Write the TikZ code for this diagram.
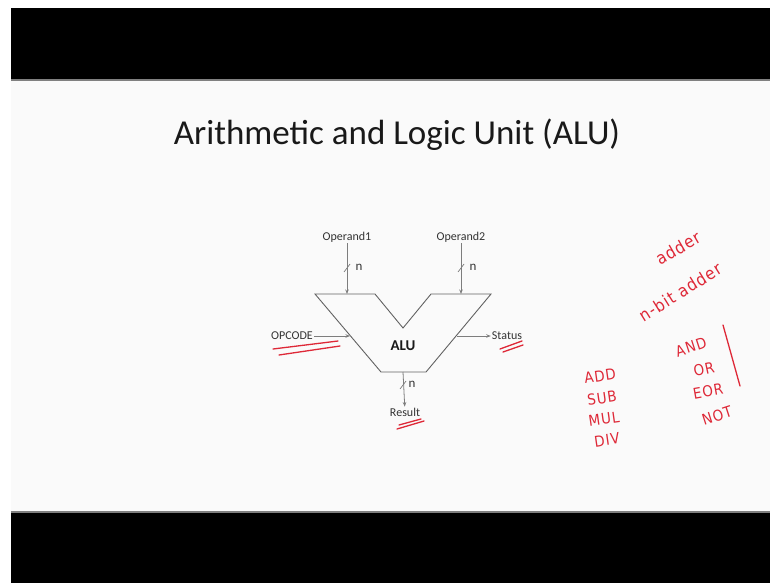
\documentclass[tikz,border=0pt]{standalone}
\usepackage{fontspec}
\setmainfont{Carlito}
\newfontfamily\hand[LetterSpace=6]{DejaVu Sans Condensed}
\usetikzlibrary{arrows.meta}
\definecolor{inkred}{RGB}{222,40,55}
\definecolor{wiregray}{RGB}{125,125,125}
\definecolor{bg}{RGB}{250,250,250}
\begin{document}
\begin{tikzpicture}[x=1pt,y=-1pt,
  lbl/.style={font=\fontsize{12}{13}\selectfont, text=black!80, inner sep=1pt},
  wire/.style={draw=wiregray, line width=0.8pt, -{Stealth[length=4.5pt,width=3.5pt]}},
  tickmark/.style={draw=wiregray, line width=0.7pt},
  nlbl/.style={font=\fontsize{13}{13}\selectfont, text=black!80, inner sep=0pt},
  ink/.style={text=inkred, font=\hand\fontsize{15}{15}\selectfont, inner sep=0pt},
  bigink/.style={text=inkred, font=\hand\fontsize{17}{17}\selectfont, inner sep=0pt},
  inkline/.style={draw=inkred, line width=1.3pt, line cap=round}]
\useasboundingbox (0,0) rectangle (770,583);
% background and video bands
\fill[white] (0,0) rectangle (770,583);
\fill[bg] (11,80) rectangle (770,512);
\fill[black] (11,8) rectangle (770,79);
\fill[black!50] (11,79) rectangle (770,81);
\fill[black!50] (11,511) rectangle (770,513);
\fill[black] (11,513) rectangle (770,583);
% title
\node[text=black!90, inner sep=0pt] (title) at (397,135) {\fontsize{35}{40}\selectfont Arithmetic and Logic Unit (ALU)};
% ALU shape
\coordinate (tl) at (315,294);
\coordinate (la) at (375,294);
\coordinate (notch) at (403,328);
\coordinate (ra) at (431,294);
\coordinate (tr) at (491,294);
\coordinate (br) at (426,372);
\coordinate (bl) at (381,372);
\draw[draw=black!62, line width=0.9pt, line join=miter] (tl) -- (la) -- (notch) -- (ra) -- (tr) -- (br) -- (bl) -- cycle;
\node[font=\bfseries\fontsize{15}{15}\selectfont, text=black!90] (alu) at (403,346) {ALU};
% operand 1
\node[lbl] (op1) at (347,237) {Operand1};
\coordinate (in1) at (347,294);
\draw[wire] (op1) -- (in1);
\draw[tickmark] (344,272) -- (350,264);
\node[nlbl] (n1) at (359,267) {n};
% operand 2
\node[lbl] (op2) at (461,237) {Operand2};
\coordinate (in2) at (461,294);
\draw[wire] (op2) -- (in2);
\draw[tickmark] (458,272) -- (464,264);
\node[nlbl] (n2) at (473,267) {n};
% opcode
\node[lbl] (opcode) at (292,336) {OPCODE};
\coordinate (opin) at (350,336);
\draw[wire] (opcode) -- (opin);
% status
\node[lbl] (status) at (507,336) {Status};
\coordinate (stout) at (457,336);
\draw[wire] (stout) -- (status);
% result
\coordinate (rin) at (403,372);
\node[lbl] (result) at (405,412) {Result};
\draw[wire] (rin) -- (result);
\draw[tickmark] (400,389) -- (406,381);
\node[nlbl] (n3) at (412,384) {n};
% red underlines
\draw[inkline] (273,349) -- (338,341);
\draw[inkline] (279,355) -- (340,346);
\draw[inkline] (500,349) -- (522,341);
\draw[inkline] (503,352) -- (523,345);
\draw[inkline] (397,429) -- (424,421);
\draw[inkline] (399,425) -- (421,419);
% red handwriting
\node[bigink, rotate=30] (adder) at (678,248) {adder};
\node[bigink, rotate=32] (nbit) at (680,292) {n-bit adder};
\node[ink, rotate=8] (add) at (600,376) {ADD};
\node[ink, rotate=8] (sub) at (602,398) {SUB};
\node[ink, rotate=8] (mul) at (604,419) {MUL};
\node[ink, rotate=8] (div) at (607,440) {DIV};
\node[ink, rotate=18] (and) at (691,347) {AND};
\node[ink, rotate=12] (or) at (704,369) {OR};
\node[ink, rotate=10] (eor) at (708,391) {EOR};
\node[ink, rotate=18] (not) at (717,416) {NOT};
\coordinate (barTop) at (723,325);
\coordinate (barBot) at (740,386);
\draw[inkline] (barTop) -- (barBot);
\end{tikzpicture}
\end{document}
